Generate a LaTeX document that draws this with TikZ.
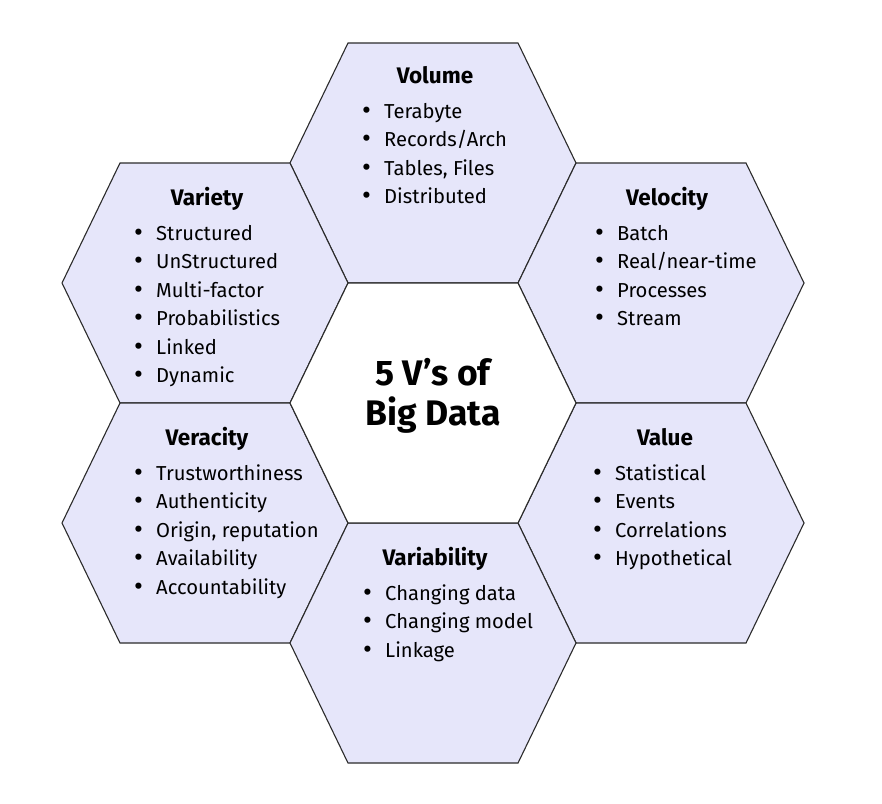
\documentclass[tikz,border=0pt]{standalone}
\usepackage{fontspec}
\setmainfont{Fira Sans}
\usetikzlibrary{positioning}
\definecolor{hexfill}{HTML}{E6E6FA}
\definecolor{hexline}{HTML}{2B2B2B}
% bullet with a fixed gap before the item text
\newcommand{\itm}{\makebox[22pt][l]{\raisebox{-0.12ex}{\scalebox{1.35}{\textbullet}}}}

\begin{document}
\begin{tikzpicture}[x=1pt, y=-1pt,
  cell/.style={fill=hexfill, draw=hexline, line width=1.1pt, line join=miter},
  head/.style={font=\fontsize{22.5}{26}\selectfont\bfseries, anchor=base, inner sep=0pt},
  items/.style={font=\fontsize{20.2}{28.5}\selectfont, anchor=base west, inner sep=0pt},
  hub/.style={font=\fontsize{35.5}{40}\selectfont\bfseries, anchor=base, inner sep=0pt}]
  \useasboundingbox (0,0) rectangle (882,803);

  % honeycomb: six outer cells, white cell in the middle
  \foreach \cx/\cy/\tint in {433/163/hexfill, 205/283/hexfill, 661/283/hexfill,
                             205/523/hexfill, 661/523/hexfill, 433/643/hexfill,
                             433/403/white}{
    \draw[cell, fill=\tint, shift={(\cx,\cy)}]
      (-143,0) -- (-85,-120) -- (85,-120) -- (143,0) -- (85,120) -- (-85,120) -- cycle;
  }

  % centre
  \node[hub] (hub) at (433,385) {\begin{tabular}[t]{@{}c@{}}5 V’s of\\Big Data\end{tabular}};

  % Volume (top)
  \node[head] (volume) at (435,83) {Volume};
  \node[items] (volume-list) at (362,118) {\begin{tabular}[t]{@{}l@{}}
    \itm Terabyte\\ \itm Records/Arch\\ \itm Tables, Files\\ \itm Distributed
  \end{tabular}};

  % Variety (upper left)
  \node[head] (variety) at (207,205) {Variety};
  \node[items] (variety-list) at (134,240) {\begin{tabular}[t]{@{}l@{}}
    \itm Structured\\ \itm UnStructured\\ \itm Multi-factor\\ \itm Probabilistics\\
    \itm Linked\\ \itm Dynamic
  \end{tabular}};

  % Velocity (upper right)
  \node[head] (velocity) at (667,205) {Velocity};
  \node[items] (velocity-list) at (595,240) {\begin{tabular}[t]{@{}l@{}}
    \itm Batch\\ \itm Real/near-time\\ \itm Processes\\ \itm Stream
  \end{tabular}};

  % Veracity (lower left)
  \node[head] (veracity) at (207,445) {Veracity};
  \node[items] (veracity-list) at (134,480) {\begin{tabular}[t]{@{}l@{}}
    \itm Trustworthiness\\ \itm Authenticity\\ \itm Origin, reputation\\
    \itm Availability\\ \itm Accountability
  \end{tabular}};

  % Value (lower right)
  \node[head] (value) at (665,445) {Value};
  \node[items] (value-list) at (593,480) {\begin{tabular}[t]{@{}l@{}}
    \itm Statistical\\ \itm Events\\ \itm Correlations\\ \itm Hypothetical
  \end{tabular}};

  % Variability (bottom)
  \node[head] (variability) at (435,565) {Variability};
  \node[items] (variability-list) at (363,600) {\begin{tabular}[t]{@{}l@{}}
    \itm Changing data\\ \itm Changing model\\ \itm Linkage
  \end{tabular}};
\end{tikzpicture}
\end{document}
